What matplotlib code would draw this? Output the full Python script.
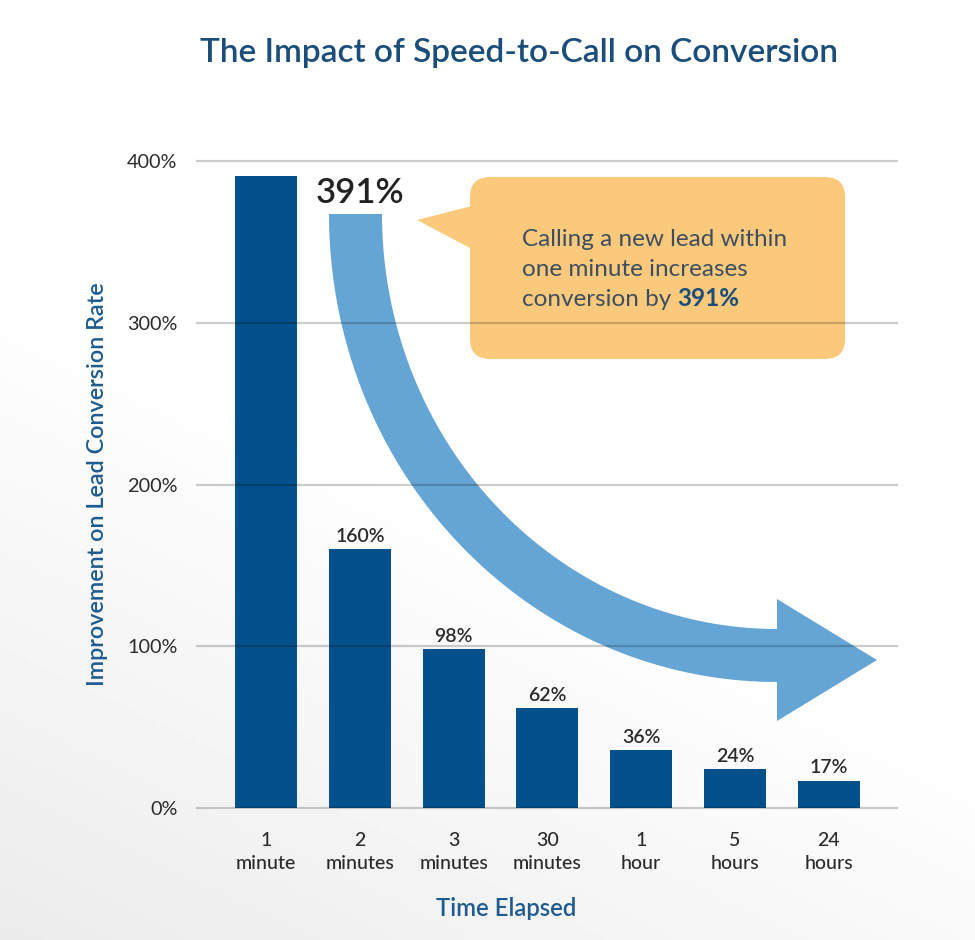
import numpy as np
import matplotlib.pyplot as plt
import matplotlib.transforms as mtransforms
from matplotlib.patches import Polygon, FancyBboxPatch

plt.rcParams['font.family'] = ['Lato', 'DejaVu Sans']

# data
categories = ["1\nminute", "2\nminutes", "3\nminutes", "30\nminutes", "1\nhour", "5\nhours", "24\nhours"]
values = [391, 160, 98, 62, 36, 24, 17]
value_labels = ["391%", "160%", "98%", "62%", "36%", "24%", "17%"]
yticks = [0, 100, 200, 300, 400]
ytick_labels = ["0%", "100%", "200%", "300%", "400%"]

BAR = "#03508a"
TITLE = "#1b4d7b"
LABEL = "#1f5b8f"
TEXT = "#2b2b2b"
ARROW = "#64a5d5"
CALLOUT = "#fbc97b"

W, H = 975, 940
fig = plt.figure(figsize=(W / 100, H / 100), dpi=100)

# faint background shading, lower left
bg = fig.add_axes([0, 0, 1, 1], zorder=-5)
yy, xx = np.mgrid[0:1:200j, 0:1:200j]
shade = np.clip(1.2 * yy - 0.6 * xx - 0.35, 0, 1) * 0.09
bg.imshow(1 - shade, cmap="gray", vmin=0, vmax=1, extent=[0, 1, 0, 1],
          origin="upper", aspect="auto")
bg.set_axis_off()

ax = fig.add_axes([197 / W, (H - 808) / H, 700 / W, 647 / H])
ax.patch.set_alpha(0)
x = np.arange(len(values))
ax.bar(x, values, width=0.66, color=BAR, zorder=2)
ax.set_xlim(-0.736, 6.727)
ax.set_ylim(0, 400)

for i in range(1, len(values)):
    ax.annotate(value_labels[i], (x[i], values[i]), xytext=(0, 3),
                textcoords="offset points", ha="center", va="bottom",
                fontsize=14, fontweight="semibold", color=TEXT, zorder=5)

ax.set_xticks(x, categories)
ax.set_yticks(yticks, ytick_labels)
ax.tick_params(length=0, colors=TEXT)
ax.tick_params(axis="x", pad=17, labelsize=14)
ax.tick_params(axis="y", pad=14, labelsize=14.3)
for lab in ax.get_xticklabels():
    lab.set_linespacing(1.45)
    lab.set_fontweight("medium")
for s in ax.spines.values():
    s.set_visible(False)

# gridlines drawn over everything
for t in yticks:
    ax.axhline(t, color="k", alpha=0.2, lw=1.6, zorder=10, clip_on=False)

ax.set_ylabel("Improvement on Lead Conversion Rate", fontsize=16.8,
              fontweight="semibold", color=LABEL)
ax.yaxis.set_label_coords(-0.127, 0.5)
ax.set_xlabel("Time Elapsed", fontsize=17.2, fontweight="semibold", color=LABEL)
ax.xaxis.set_label_coords(0.441, -0.137)

fig.text(519 / W, 1 - 53 / H, "The Impact of Speed-to-Call on Conversion",
         ha="center", va="center", fontsize=24, fontweight="semibold", color=TITLE)

# pixel coordinates (origin top-left) for the decorations
px = mtransforms.Affine2D().scale(1 / W, -1 / H).translate(0, 1) + fig.transFigure

# curved arrow
t = np.linspace(0, np.pi / 2, 80)
cx, cy = 777, 214
outer = np.column_stack([cx - 448 * np.cos(t), cy + 468 * np.sin(t)])
inner = np.column_stack([cx - 395 * np.cos(t), cy + 415 * np.sin(t)])[::-1]
head = np.array([[777, 721], [877, 660], [777, 599]])
arrow = np.vstack([outer, head, inner])
ax.add_patch(Polygon(arrow, closed=True, facecolor=ARROW, edgecolor="none",
                     transform=px, zorder=4, clip_on=False))

# callout
ax.add_patch(FancyBboxPatch((470, 177), 375, 182,
                            boxstyle="round,pad=0,rounding_size=20",
                            facecolor=CALLOUT, edgecolor="none",
                            transform=px, zorder=4, clip_on=False))
ax.add_patch(Polygon([[417, 220], [472, 206], [472, 249]], closed=True,
                     facecolor=CALLOUT, edgecolor="none",
                     transform=px, zorder=4, clip_on=False))

ax.text(360, 193, "391%", transform=px, ha="center", va="center",
        fontsize=25, fontweight="semibold", color="#222222", zorder=6)

ct = "#3e4e60"
ax.text(522, 239, "Calling a new lead within", transform=px, ha="left",
        va="center", fontsize=17.5, color=ct, zorder=6)
ax.text(522, 269, "one minute increases", transform=px, ha="left",
        va="center", fontsize=17.5, color=ct, zorder=6)
t3 = ax.text(522, 299, "conversion by ", transform=px, ha="left",
             va="center", fontsize=17.5, color=ct, zorder=6)
ax.annotate("391%", xy=(1, 0), xycoords=t3, ha="left", va="bottom",
            fontsize=17.5, fontweight="bold", color=TITLE, zorder=6)

fig.savefig("out.png", dpi=100)
